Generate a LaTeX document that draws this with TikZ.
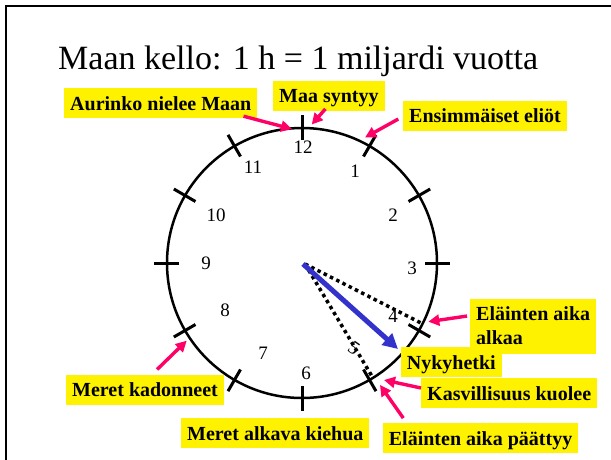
\documentclass[tikz,border=0pt]{standalone}
\usepackage{fontspec}
\setmainfont{Liberation Serif}
\usetikzlibrary{arrows.meta}

\definecolor{hotpink}{RGB}{255,0,102}
\definecolor{handblue}{RGB}{51,51,204}

\begin{document}
\begin{tikzpicture}[
    x=1pt, y=-1pt,
    sticker/.style={fill=yellow, inner xsep=6pt, font=\bfseries\fontsize{20}{24}\selectfont},
    tag/.style={sticker, inner ysep=0pt, text height=22pt, text depth=8pt, anchor=base west},
    hour/.style={font=\fontsize{19}{20}\selectfont, inner sep=0pt},
    pointer/.style={-{Triangle[length=11pt,width=11pt]}, line width=3.4pt, hotpink},
    period/.style={line width=3.5pt, dash pattern=on 3.5pt off 3.5pt},
]
\useasboundingbox (0,0) rectangle (611,459);

% frame and title
\draw[line width=2.6pt] (6,470) -- (6,6) -- (620,6);
\node[anchor=base west, inner sep=0pt, font=\fontsize{34}{40}\selectfont] (title) at (58,69.3) {Maan kello: 1 h = 1 miljardi vuotta};

% dial
\draw[line width=2.5pt] (302,263) circle[radius=135];
\foreach \a in {30,60,...,360}
  \draw[line width=3pt] ({302+123*sin(\a)},{263-123*cos(\a)}) -- ({302+148*sin(\a)},{263-148*cos(\a)});

% hour numbers
\foreach \n/\x/\y in {12/303/147, 1/355/171, 2/393/215, 3/412/268, 4/393/316, 6/306/373, 7/263/353, 8/225/310, 9/206/263, 10/216/215, 11/253/167}
  \node[hour] (h\n) at (\x,\y) {\n};
\node[hour, rotate=-35] (h5) at (354,348) {5};

% hands
\coordinate (hub) at (305,264);
\coordinate (t4) at (423,324);
\coordinate (t5) at (373,378);
\coordinate (now) at (398,349);
\draw[period] (hub) -- (t4);
\draw[period] (hub) -- (t5);
\draw[handblue, line width=5pt, -{Triangle[length=15pt,width=15pt]}] ([xshift=-2pt]hub) -- (now);

% labels
\node[tag] (aurinko) at (64,110) {Aurinko nielee Maan};
\node[tag] (syntyy) at (273,102.7) {Maa syntyy};
\node[tag] (eliot) at (403,122.7) {Ensimmäiset eliöt};
\node[sticker, inner ysep=8.5pt, align=left, anchor=north west] (alkaa) at (470,298.3) {Eläinten aika\\alkaa};
\node[tag] (nyky) at (400.7,369.3) {Nykyhetki};
\node[tag] (kasvi) at (421,400) {Kasvillisuus kuolee};
\node[tag] (paattyy) at (382.7,445) {Eläinten aika päättyy};
\node[tag] (kiehua) at (181,440) {Meret alkava kiehua};
\node[tag] (kadonneet) at (66,396.7) {Meret kadonneet};

% arrow tips on the dial
\coordinate (pAurinko) at (292,129);
\coordinate (pSyntyy) at (311.7,124.5);
\coordinate (pEliot) at (365,137.5);
\coordinate (pAlkaa) at (428.3,321.7);
\coordinate (pKasvi) at (384,380);
\coordinate (pPaattyy) at (380,385);
\coordinate (pKadonneet) at (186.7,340.7);

\draw[pointer] ([xshift=-14pt,yshift=2pt]aurinko.south east) -- (pAurinko);
\draw[pointer] ([xshift=-3.5pt,yshift=2pt]syntyy.south) -- (pSyntyy);
\draw[pointer] ([xshift=-4.7pt,yshift=-3.3pt]eliot.west) -- (pEliot);
\draw[pointer] ([xshift=-3pt,yshift=10pt]alkaa.west) -- (pAlkaa);
\draw[pointer] ([yshift=5pt]kasvi.west) -- (pKasvi);
\draw[pointer] ([xshift=20.6pt,yshift=4.7pt]paattyy.north west) -- (pPaattyy);
\draw[pointer] ([xshift=12pt,yshift=5pt]kadonneet.north) -- (pKadonneet);

\end{tikzpicture}
\end{document}
